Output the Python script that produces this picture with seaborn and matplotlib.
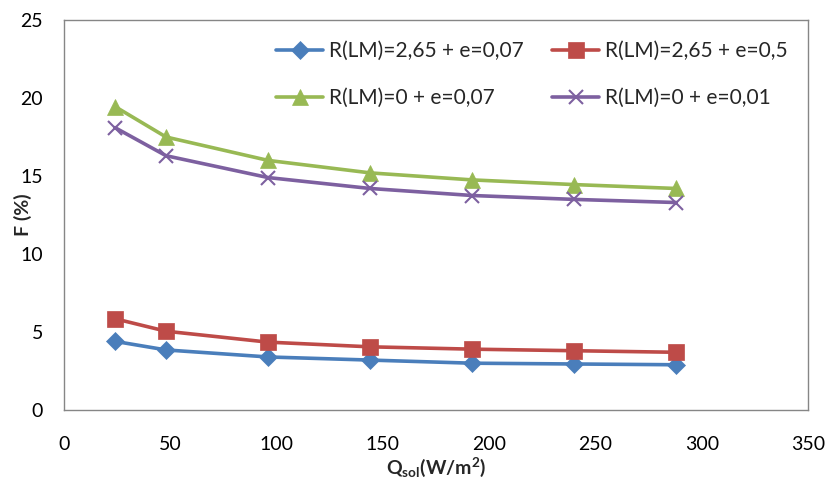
import matplotlib
matplotlib.use("Agg")
import matplotlib.pyplot as plt
import seaborn as sns
import pandas as pd

sns.set_theme(style="white")
plt.rcParams['font.family'] = ['Lato', 'DejaVu Sans']
plt.rcParams['mathtext.fontset'] = 'custom'
plt.rcParams['mathtext.rm'] = 'Lato'
plt.rcParams['mathtext.bf'] = 'Lato:bold'

q_sol = [24, 48, 96, 144, 192, 240, 288]
f_rlm265_e007 = [4.4, 3.85, 3.4, 3.2, 3.0, 2.95, 2.9]
f_rlm265_e05 = [5.85, 5.05, 4.35, 4.05, 3.9, 3.8, 3.7]
f_rlm0_e007 = [19.45, 17.5, 16.0, 15.2, 14.75, 14.45, 14.2]
f_rlm0_e001 = [18.1, 16.3, 14.9, 14.2, 13.75, 13.5, 13.3]

labels = ["R(LM)=2,65 + e=0,07", "R(LM)=2,65 + e=0,5",
          "R(LM)=0 + e=0,07", "R(LM)=0 + e=0,01"]
series = [f_rlm265_e007, f_rlm265_e05, f_rlm0_e007, f_rlm0_e001]
colors = ["#4A7EBB", "#BE4B48", "#98B954", "#7D60A0"]
markers = ["D", "s", "^", "x"]
msizes = [9, 11, 11, 10]

fig = plt.figure(figsize=(8.28, 4.79), dpi=100)
ax = fig.add_axes([64/828, 69/479, 744/828, 390/479])

handles = []
for lab, ys, c, m, ms in zip(labels, series, colors, markers, msizes):
    df = pd.DataFrame({"x": q_sol, "y": ys})
    sns.lineplot(data=df, x="x", y="y", ax=ax, color=c, marker=m,
                 markersize=ms, linewidth=2.6, markeredgecolor=c,
                 markerfacecolor=c, markeredgewidth=1.5 if m == "x" else 0.5,
                 label=lab, legend=False)
    handles.append(ax.lines[-1])

ax.set_xlim(0, 350)
ax.set_ylim(0, 25)
ax.set_xticks(range(0, 351, 50))
ax.set_yticks(range(0, 26, 5))
gray = "#868686"
for s in ax.spines.values():
    s.set_color(gray)
    s.set_linewidth(1.0)
ax.tick_params(axis='both', which='both', direction='out', length=5,
               width=1.0, color=gray, labelsize=14, labelcolor="#000000")
ax.tick_params(axis='x', pad=14)
ax.tick_params(axis='y', pad=10)
ax.set_ylabel("F (%)", fontsize=14, fontweight='bold', va='center')
ax.yaxis.set_label_coords(-0.055, 0.5)
ax.set_xlabel(r"$\mathbf{Q_{sol}}$(W/m$^{\mathbf{2}}$)", fontsize=14,
              fontweight='bold', va='center')
ax.xaxis.set_label_coords(0.5, -0.147)

order = [0, 2, 1, 3]
leg = ax.legend([handles[i] for i in order], [labels[i] for i in order],
                ncol=2, loc='upper right', bbox_to_anchor=(1.0, 1.0),
                borderaxespad=0.6,
                frameon=False, fontsize=15, handlelength=2.25,
                columnspacing=1.4, labelspacing=1.3, handletextpad=0.25)

fig.savefig("out.png", dpi=100)
